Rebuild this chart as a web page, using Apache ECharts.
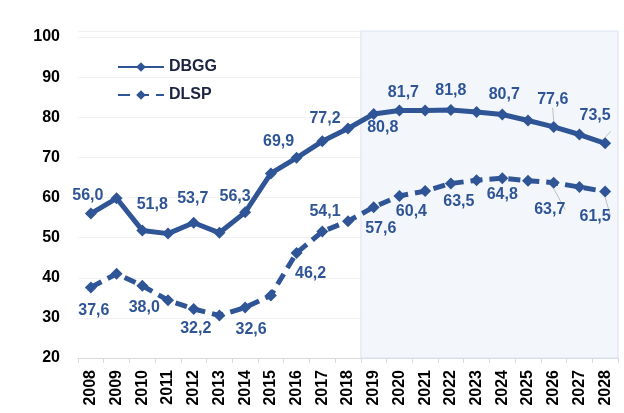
<!DOCTYPE html>
<html lang="en">
<head>
    <meta charset="UTF-8">
    <title>DBGG - DLSP</title>
    <script src="https://cdn.jsdelivr.net/npm/echarts@6/dist/echarts.min.js"></script>
    <style>
        html, body { margin: 0; height: 100%; background: #fff; }
        #main { width: 624px; height: 413px; }
    </style>
</head>
<body>
<div id="main"></div>
<script>
    // years on the x axis
    var years = ['2008', '2009', '2010', '2011', '2012', '2013', '2014', '2015', '2016', '2017', '2018',
        '2019', '2020', '2021', '2022', '2023', '2024', '2025', '2026', '2027', '2028'];
    // series values
    var dbgg = [56.0, 59.8, 51.8, 51.0, 53.7, 51.2, 56.3, 66.0, 69.9, 74.0, 77.2,
        80.8, 81.7, 81.7, 81.8, 81.3, 80.7, 79.2, 77.6, 75.7, 73.5];
    var dlsp = [37.6, 41.0, 38.0, 34.4, 32.2, 30.6, 32.6, 35.6, 46.2, 51.5, 54.1,
        57.6, 60.4, 61.6, 63.5, 64.3, 64.8, 64.2, 63.7, 62.6, 61.5];
    // shaded forecast period (first and last year)
    var forecastFrom = '2019';
    var forecastTo = '2028';

    var color = '#2f5597';

    // where each value label sits, relative to its marker (index -> [dx, dy])
    var dbggLabelPos = {
        0: [-3, -18], 2: [10, -26], 4: [-1, -24], 6: [-10, -16], 8: [-18, -16], 10: [-23, -10],
        11: [9, 14], 12: [4, -18], 14: [0, -19], 16: [2, -20], 18: [-1, -27], 20: [-10, -28]
    };
    var dlspLabelPos = {
        0: [3, 23], 2: [2, 22], 4: [2, 20], 6: [6, 22], 8: [14, 21], 10: [-23, -10],
        11: [7, 21], 12: [12, 16], 14: [8, 18], 16: [0, 16], 18: [-4, 27], 20: [-10, 25]
    };
    var leaderIdx = [18, 20];

    function buildData(vals, pos) {
        return vals.map(function (v, i) {
            if (!pos[i]) {
                return { value: v, label: { show: false } };
            }
            return {
                value: v,
                label: { show: true, offset: pos[i] },
                labelLine: { show: leaderIdx.indexOf(i) >= 0 }
            };
        });
    }

    function fmt(p) {
        return p.value.toFixed(1).replace('.', ',');
    }

    var chart = echarts.init(document.getElementById('main'));

    var labelStyle = {
        position: 'inside',
        formatter: fmt,
        color: color,
        fontFamily: 'Liberation Sans',
        fontWeight: 'bold',
        fontSize: 16
    };

    // the box covers whole year bands, so use a hidden band-index axis for it
    var bandFrom = years.indexOf(forecastFrom);
    var bandTo = years.indexOf(forecastTo) + 1;

    chart.setOption({
        animation: false,
        grid: { left: 78, right: 6, top: 31, bottom: 55 },
        legend: {
            orient: 'vertical',
            left: 112,
            top: 54,
            itemWidth: 46,
            itemHeight: 12,
            itemGap: 12,
            textStyle: { fontFamily: 'Liberation Sans', fontWeight: 'bold', fontSize: 16, color: '#1c2340' },
            data: ['DBGG', 'DLSP']
        },
        xAxis: [{
            type: 'category',
            data: years,
            boundaryGap: true,
            axisLine: { lineStyle: { color: '#d9d9d9' } },
            axisTick: { show: true, length: 5, lineStyle: { color: '#d9d9d9' } },
            axisLabel: {
                interval: 0,
                rotate: 90,
                margin: 12,
                color: '#000',
                fontFamily: 'Liberation Sans',
                fontWeight: 'bold',
                fontSize: 16
            }
        }, {
            type: 'value',
            min: 0,
            max: years.length,
            show: false
        }],
        yAxis: {
            type: 'value',
            min: 20,
            max: 101.5,
            interval: 10,
            axisLine: { show: false },
            axisTick: { show: false },
            splitLine: { lineStyle: { color: '#f2f2f2' } },
            axisLabel: {
                margin: 18,
                color: '#000',
                fontFamily: 'Liberation Sans',
                fontWeight: 'bold',
                fontSize: 16,
                formatter: function (v) { return v % 10 === 0 ? String(v) : ''; }
            }
        },
        series: [
            {
                name: 'forecast',
                type: 'line',
                xAxisIndex: 1,
                data: [],
                silent: true,
                z: 1,
                markArea: {
                    silent: true,
                    itemStyle: { color: '#f3f6fb', borderColor: '#dbe3f0', borderWidth: 1 },
                    data: [[{ xAxis: bandFrom }, { xAxis: bandTo }]]
                }
            },
            {
                name: 'DBGG',
                type: 'line',
                data: buildData(dbgg, dbggLabelPos),
                symbol: 'diamond',
                symbolSize: 12,
                itemStyle: { color: color },
                lineStyle: { color: color, width: 5 },
                label: labelStyle,
                labelLine: { lineStyle: { color: '#bfbfbf', width: 1 } },
                z: 3
            },
            {
                name: 'DLSP',
                type: 'line',
                data: buildData(dlsp, dlspLabelPos),
                symbol: 'diamond',
                symbolSize: 12,
                itemStyle: { color: color },
                lineStyle: { color: color, width: 5, type: [12, 7] },
                label: labelStyle,
                labelLine: { lineStyle: { color: '#bfbfbf', width: 1 } },
                z: 3
            }
        ]
    });
</script>
</body>
</html>
